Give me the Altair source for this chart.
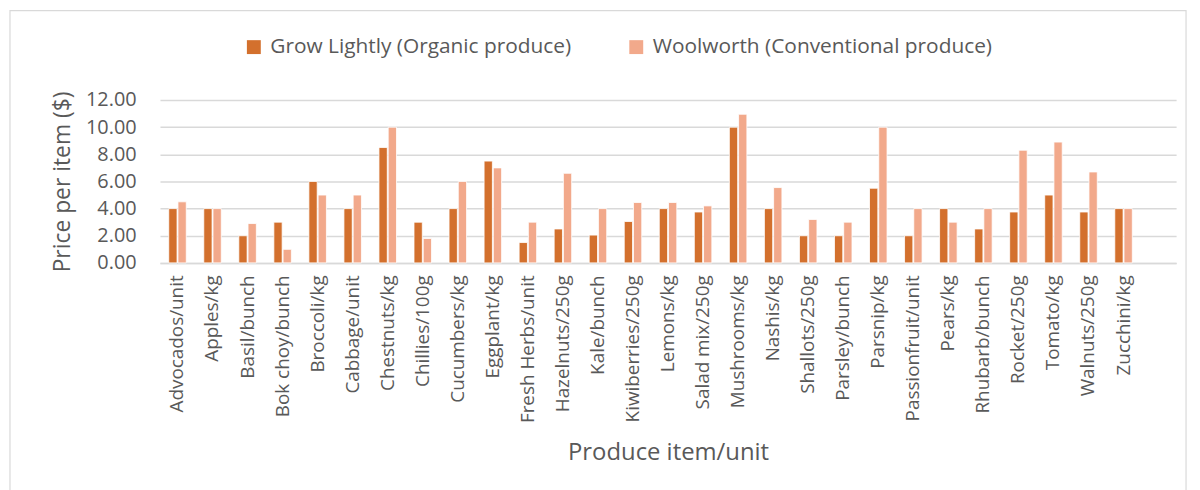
import altair as alt
import pandas as pd

categories = ["Advocados/unit", "Apples/kg", "Basil/bunch", "Bok choy/bunch", "Broccoli/kg",
              "Cabbage/unit", "Chestnuts/kg", "Chillies/100g", "Cucumbers/kg", "Eggplant/kg",
              "Fresh Herbs/unit", "Hazelnuts/250g", "Kale/bunch", "Kiwiberries/250g", "Lemons/kg",
              "Salad mix/250g", "Mushrooms/kg", "Nashis/kg", "Shallots/250g", "Parsley/bunch",
              "Parsnip/kg", "Passionfruit/unit", "Pears/kg", "Rhubarb/bunch", "Rocket/250g",
              "Tomato/kg", "Walnuts/250g", "Zucchini/kg"]
organic = [4.0, 4.0, 2.0, 3.0, 6.0, 4.0, 8.5, 3.0, 4.0, 7.5, 1.5, 2.5, 2.05, 3.05, 4.0,
           3.75, 10.0, 4.0, 2.0, 2.0, 5.5, 2.0, 4.0, 2.5, 3.75, 5.0, 3.75, 4.0]
conventional = [4.5, 4.0, 2.9, 1.0, 5.0, 5.0, 10.0, 1.8, 6.0, 7.0, 3.0, 6.6, 4.0, 4.45, 4.45,
                4.2, 10.95, 5.55, 3.2, 3.0, 10.0, 4.0, 3.0, 4.0, 8.3, 8.9, 6.7, 4.0]
series = ["Grow Lightly (Organic produce)", "Woolworth (Conventional produce)"]
colors = ["#D3702D", "#F2A98B"]
y_ticks = [0, 2, 4, 6, 8, 10, 12]

rows = []
for c, o, w in zip(categories, organic, conventional):
    rows.append({"item": c, "series": series[0], "price": o})
    rows.append({"item": c, "series": series[1], "price": w})
df = pd.DataFrame(rows)

FONT = "Open Sans"
GRAY = "#595959"
GRID = "#D9D9D9"

x_domain = categories + [" "]

bars = alt.Chart(df).mark_bar(stroke="white", strokeWidth=0.8).encode(
    x=alt.X("item:N", sort=x_domain,
            scale=alt.Scale(domain=x_domain, paddingInner=0.5, paddingOuter=0.25),
            axis=alt.Axis(title="Produce item/unit", labelAngle=-90, labelFontSize=19,
                          labelColor=GRAY, labelFont=FONT, labelPadding=12, ticks=False,
                          domainColor=GRID, domainWidth=1.5, titleFontSize=24,
                          titleFont=FONT, titleColor=GRAY, titleFontWeight="normal",
                          titlePadding=18, labelLimit=0)),
    xOffset=alt.XOffset("series:N", sort=series, scale=alt.Scale(paddingInner=0.1)),
    y=alt.Y("price:Q", scale=alt.Scale(domain=[0, 12]),
            axis=alt.Axis(title="Price per item ($)", values=y_ticks, format=".2f",
                          labelFontSize=20, labelColor=GRAY, labelFont=FONT,
                          labelPadding=24, ticks=False, domain=False,
                          gridColor=GRID, gridWidth=1.5, titleFontSize=23,
                          titleFont=FONT, titleColor=GRAY, titleFontWeight="normal",
                          titlePadding=11)),
    color=alt.Color("series:N", sort=series,
                    scale=alt.Scale(domain=series, range=colors),
                    legend=alt.Legend(title=None, orient="none", legendX=84, legendY=-64,
                                      direction="horizontal", symbolType="square",
                                      symbolSize=196, symbolStrokeWidth=0,
                                      labelFontSize=21, labelFont=FONT, labelColor=GRAY,
                                      columnPadding=54, labelOffset=6, padding=0,
                                      labelLimit=0)),
)

frame = alt.Chart(alt.Data(values=[{}])).mark_rect(
    fill=None, stroke=GRID, strokeWidth=1.2
).encode(x=alt.value(-151), x2=alt.value(1033), y=alt.value(-90), y2=alt.value(410))

chart = alt.layer(frame, bars).properties(
    width=1023, height=164,
    autosize=alt.AutoSizeParams(type="none"),
    padding={"left": 153, "top": 91, "right": 16, "bottom": 227},
).configure_view(stroke=None)

chart.save("out.html", embed_options={"renderer": "svg", "actions": False})
